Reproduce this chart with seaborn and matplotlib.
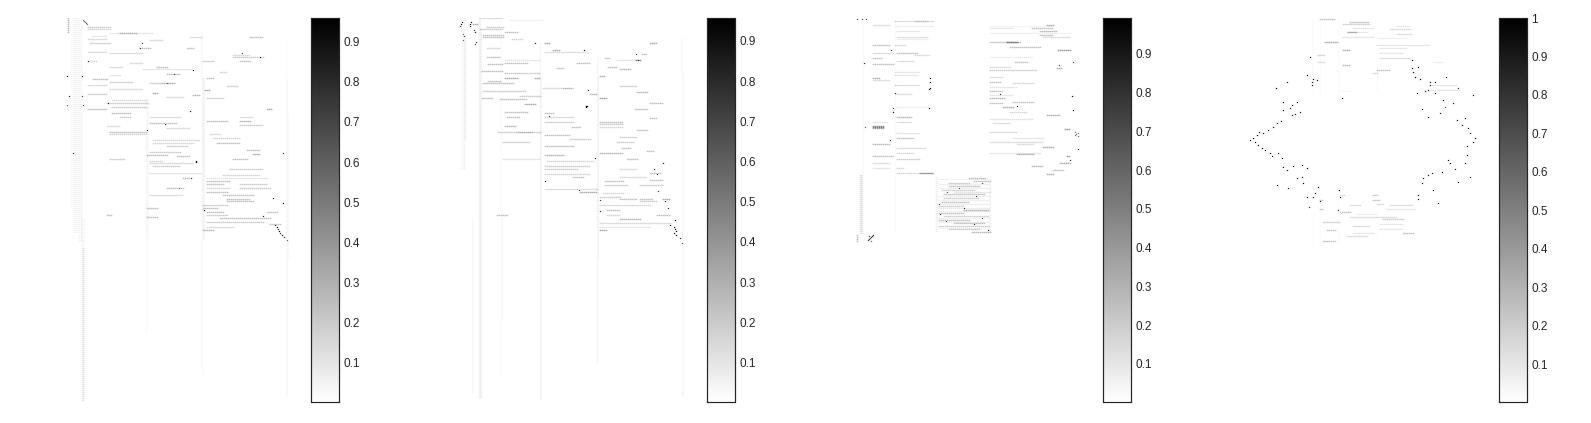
#!/usr/bin/env python3
"""Four sparse grey matrices, each with its own colorbar."""

import numpy as np
import matplotlib
matplotlib.use('Agg')
import matplotlib.pyplot as plt
import seaborn as sns

sns.set_theme(style="white")
plt.rcParams['font.family'] = ['Liberation Sans', 'DejaVu Sans']

N_ROWS = 384
N_COLS = 230

# streaks: (row, first col, last col, value)
streaks_1 = [
    (9, 26, 48, .25), (11, 26, 48, .2), (15, 48, 91, .15), (15, 58, 75, .4), (18, 30, 45, .15),
    (19, 128, 141, .2), (19, 188, 201, .3), (21, 26, 45, .2), (25, 28, 48, .25), (22, 88, 101, .2),
    (30, 78, 88, .3), (30, 125, 131, .3), (34, 26, 45, .2), (35, 48, 81, .2), (37, 171, 188, .2),
    (39, 171, 201, .25), (43, 26, 35, .2), (43, 141, 151, .25), (43, 178, 188, .3), (45, 68, 81, .2),
    (49, 48, 61, .2), (49, 95, 105, .3), (51, 81, 131, .15), (54, 158, 165, .2), (56, 105, 118, .3),
    (57, 48, 58, .15), (61, 31, 45, .3), (64, 48, 71, .25), (60, 145, 151, .3), (65, 88, 111, .25),
    (65, 100, 112, .4), (67, 26, 45, .2), (68, 165, 175, .25), (71, 48, 81, .2), (72, 143, 148, .4),
    (75, 91, 95, .4), (76, 26, 45, .25), (77, 131, 138, .35), (79, 105, 122, .2), (80, 145, 161, .25),
    (82, 50, 85, .2), (85, 45, 85, .25), (89, 50, 85, .25), (91, 26, 45, .3), (91, 205, 210, .4),
    (95, 50, 68, .3), (99, 58, 68, .25), (99, 88, 118, .2), (99, 178, 191, .2), (103, 145, 165, .3),
    (103, 178, 188, .35), (105, 88, 115, .3), (107, 178, 201, .25), (108, 45, 58, .2), (110, 105, 128, .2),
    (114, 48, 85, .3), (116, 48, 85, .2), (116, 148, 158, .2), (120, 151, 178, .2), (122, 91, 138, .2),
    (125, 91, 131, .2), (125, 155, 178, .3), (128, 105, 125, .25), (132, 185, 198, .3), (134, 88, 118, .25),
    (136, 191, 198, .4), (137, 85, 105, .3), (138, 115, 128, .3), (141, 171, 185, .3), (141, 48, 62, .25),
    (143, 88, 101, .2), (145, 88, 131, .2), (148, 91, 118, .25), (151, 168, 201, .25), (155, 88, 138, .15),
    (157, 161, 198, .2), (160, 121, 128, .3), (160, 145, 205, .15), (163, 145, 168, .3), (166, 145, 161, .3),
    (166, 178, 205, .25), (170, 105, 121, .3), (170, 145, 168, .2), (170, 178, 208, .25), (174, 145, 165, .3),
    (177, 88, 121, .2), (177, 161, 191, .3), (181, 165, 188, .3), (183, 165, 191, .3), (187, 141, 165, .25),
    (190, 85, 95, .3), (190, 141, 155, .3), (194, 145, 161, .3), (194, 205, 215, .3), (197, 145, 165, .25),
    (197, 45, 50, .3), (199, 85, 95, .3), (200, 158, 208, .3), (204, 145, 201, .25), (206, 208, 218, .3),
    (209, 145, 171, .2), (212, 141, 151, .35),
]
# bands: (col, first row, last row, value)
bands_1 = [
    (6, 0, 14, .25), (9, 0, 190, .025), (11, 0, 215, .04), (13, 0, 215, .05), (15, 0, 215, .05), (17, 0, 222, .05),
    (19, 0, 222, .05), (20, 200, 382, .05), (21, 230, 382, .08), (22, 200, 382, .03), (45, 100, 302, .015),
    (84, 80, 315, .03), (85, 80, 220, .03), (86, 80, 220, .02), (140, 15, 355, .04), (141, 60, 220, .05),
    (142, 60, 220, .03), (224, 20, 378, .03), (225, 60, 378, .03), (226, 100, 240, .02),
]
# dots: (row, col, value)
dots_1 = [
    (2, 21, .5), (3, 22, .6), (4, 23, .5), (5, 24, .6), (6, 25, .5), (58, 5, .8), (58, 20, .8), (78, 7, .8),
    (78, 20, .7), (87, 5, .6), (87, 21, .7), (135, 11, .8), (85, 46, .9), (143, 134, .95), (144, 134, .95),
    (93, 128, .8), (112, 85, .9), (192, 142, .9), (185, 221, .9), (160, 129, .7), (30, 78, .8), (25, 80, .7),
    (52, 131, .9), (43, 26, .8), (39, 198, .8), (35, 180, .7), (135, 221, .7), (180, 211, .8), (198, 201, .8),
    (207, 213, .9), (209, 215, .9), (211, 216, .8), (213, 217, .9), (215, 218, .8), (217, 220, .9),
    (219, 222, .8), (222, 225, .6), (56, 112, .7), (65, 105, .6), (106, 103, .7), (170, 117, .6),
]

streaks_2 = [
    (0, 22, 45, .2), (2, 52, 84, .1), (6, 15, 20, .4), (9, 29, 45, .25), (11, 22, 45, .25), (14, 47, 59, .3),
    (17, 25, 45, .3), (19, 25, 45, .3), (21, 54, 65, .2), (25, 87, 92, .4), (25, 192, 199, .4), (30, 29, 42, .2),
    (32, 95, 102, .4), (34, 87, 129, .2), (36, 184, 189, .3), (39, 29, 42, .3), (40, 147, 152, .3), (42, 47, 82, .15),
    (42, 159, 182, .15), (42, 178, 182, .5), (45, 47, 70, .3), (45, 119, 132, .3), (46, 30, 45, .3), (49, 150, 159, .3),
    (51, 162, 172, .35), (50, 99, 105, .3), (53, 24, 45, .3), (55, 47, 82, .25), (58, 142, 147, .4), (60, 47, 60, .4),
    (60, 77, 82, .4), (63, 30, 42, .3), (65, 25, 55, .3), (68, 162, 179, .25), (70, 85, 115, .2), (70, 105, 113, .35),
    (73, 25, 67, .25), (74, 179, 189, .35), (76, 132, 139, .35), (78, 62, 82, .25), (80, 142, 149, .45), (80, 24, 34, .3),
    (81, 42, 69, .3), (85, 192, 205, .3), (86, 67, 77, .4), (91, 177, 189, .3), (94, 47, 69, .3), (95, 87, 95, .3),
    (99, 49, 62, .3), (99, 87, 115, .2), (100, 192, 199, .3), (104, 87, 115, .25), (104, 142, 165, .3), (106, 142, 165, .25),
    (108, 47, 57, .35), (109, 142, 164, .2), (109, 114, 122, .3), (112, 179, 189, .3), (114, 40, 82, .25), (114, 60, 75, .4),
    (117, 87, 112, .3), (119, 162, 179, .25), (121, 112, 132, .25), (124, 45, 72, .25), (124, 159, 175, .25), (128, 87, 115, .3),
    (130, 164, 172, .3), (133, 189, 195, .3), (135, 142, 165, .35), (137, 87, 105, .35), (141, 45, 82, .15), (141, 169, 179, .3),
    (143, 89, 135, .2), (148, 87, 132, .25), (151, 87, 119, .25), (151, 162, 179, .2), (155, 192, 202, .3), (156, 87, 132, .2),
    (159, 115, 125, .3), (159, 162, 189, .2), (162, 192, 205, .3), (163, 147, 165, .3), (167, 147, 170, .25), (167, 182, 205, .25),
    (171, 87, 139, .2), (174, 122, 139, .4), (175, 145, 165, .2), (179, 142, 162, .25), (181, 162, 179, .3), (181, 182, 195, .3),
    (181, 205, 212, .4), (183, 182, 199, .25), (187, 142, 192, .2), (192, 149, 162, .3), (197, 149, 162, .2), (197, 199, 212, .3),
    (197, 39, 49, .3), (201, 162, 182, .35), (205, 142, 212, .2), (209, 142, 192, .15), (212, 142, 149, .4),
]
bands_2 = [
    (4, 0, 150, .05), (6, 0, 150, .06), (7, 20, 120, .05), (14, 200, 375, .04), (21, 0, 380, .05), (22, 0, 380, .05), (23, 15, 380, .04),
    (43, 15, 355, .03), (44, 200, 300, .03), (82, 25, 382, .05), (83, 60, 382, .03), (139, 40, 345, .05),
    (140, 60, 240, .04), (224, 20, 378, .04), (225, 60, 378, .03),
]
dots_2 = [
    (4, 4, .9), (6, 3, .9), (8, 2, .8), (4, 13, .9), (6, 12, .9), (8, 12, .8), (12, 16, .7), (14, 17, .8), (16, 5, .6),
    (18, 6, .7), (22, 5, .6), (24, 18, .7), (26, 17, .7), (88, 128, .95), (89, 128, .95), (88, 129, .95), (25, 77, .8),
    (32, 126, .9), (72, 130, .8), (98, 91, .7), (140, 137, .8), (145, 205, .8), (172, 121, .7), (163, 87, .8),
    (182, 142, .7), (193, 142, .8), (183, 207, .8), (190, 210, .8), (202, 217, .9), (151, 196, .8), (173, 200, .7),
    (207, 212, .9), (209, 216, .9), (211, 217, .95), (213, 218, .9), (215, 216, .9), (217, 218, .9), (220, 222, .8),
    (225, 224, .6), (156, 199, .8), (36, 178, .7), (42, 180, .8),
]

streaks_3 = [
    (3, 41, 79, .2), (3, 61, 74, .35), (7, 19, 36, .2), (7, 193, 199, .4), (8, 41, 79, .1), (8, 136, 199, .08),
    (10, 136, 159, .15), (10, 178, 199, .3), (13, 43, 66, .15), (13, 186, 203, .35), (15, 136, 216, .1), (17, 186, 199, .3),
    (19, 43, 73, .2), (19, 189, 216, .2), (21, 43, 73, .1), (24, 136, 166, .3), (24, 153, 163, .5), (27, 19, 36, .3),
    (27, 41, 51, .2), (29, 156, 186, .3), (32, 204, 216, .5), (35, 19, 39, .2), (35, 43, 63, .3), (37, 61, 76, .2),
    (39, 136, 179, .1), (40, 19, 28, .3), (43, 43, 59, .2), (44, 161, 173, .3), (46, 19, 39, .3), (49, 136, 156, .2),
    (50, 203, 208, .4), (52, 136, 183, .25), (54, 41, 66, .15), (57, 41, 63, .15), (59, 136, 149, .2), (60, 19, 26, .4),
    (62, 19, 36, .2), (64, 136, 146, .3), (65, 159, 179, .2), (67, 41, 66, .2), (69, 136, 163, .15), (73, 136, 149, .3),
    (76, 41, 58, .2), (77, 136, 159, .15), (80, 136, 151, .35), (84, 159, 179, .3), (85, 136, 149, .3), (89, 43, 73, .1),
    (89, 149, 159, .4), (94, 156, 173, .2), (97, 193, 206, .4), (99, 43, 58, .35), (101, 136, 179, .15), (104, 19, 33, .15),
    (104, 43, 58, .2), (105, 139, 156, .2), (108, 19, 29, .5), (109, 19, 29, .45), (110, 19, 29, .4), (111, 211, 216, .5),
    (114, 136, 163, .2), (115, 43, 66, .15), (120, 43, 59, .3), (120, 159, 189, .15), (124, 136, 189, .2), (126, 19, 36, .35),
    (126, 163, 179, .2), (129, 189, 199, .4), (130, 43, 71, .2), (135, 43, 59, .2), (135, 136, 186, .15), (136, 163, 179, .35),
    (138, 19, 39, .3), (138, 213, 216, .5), (141, 43, 66, .25), (145, 19, 36, .2), (145, 206, 216, .4), (148, 178, 189, .35),
    (150, 43, 49, .2), (150, 19, 36, .15), (152, 199, 209, .3), (155, 43, 79, .2), (155, 66, 78, .4), (156, 193, 199, .4),
    # block in the middle
    (160, 115, 132, .3), (161, 85, 136, .08), (163, 120, 136, .3), (165, 95, 115, .25), (166, 85, 136, .1), (168, 95, 125, .3),
    (170, 85, 136, .1), (172, 88, 120, .25), (174, 100, 136, .15), (176, 90, 130, .3), (178, 85, 136, .1), (180, 90, 125, .25),
    (182, 85, 136, .1), (184, 88, 115, .3), (186, 85, 136, .1), (188, 85, 110, .25), (190, 85, 136, .12), (192, 110, 135, .35),
    (193, 85, 136, .1), (195, 85, 110, .3), (198, 90, 135, .25), (200, 85, 136, .1), (202, 85, 115, .3), (204, 85, 136, .1),
    (205, 100, 130, .3), (208, 85, 135, .25), (210, 85, 136, .08), (211, 95, 125, .25), (214, 118, 136, .35),
]
bands_3 = [
    (6, 157, 215, .08), (7, 157, 215, .09), (8, 157, 215, .06), (9, 0, 155, .04), (19, 158, 215, .015), (41, 0, 215, .03),
    (82, 159, 214, .05), (83, 159, 214, .04), (136, 159, 214, .06), (221, 0, 215, .02), (3, 217, 224, .25),
]
dots_3 = [
    (1, 3, .7), (1, 8, .7), (1, 12, .7), (60, 76, .95), (64, 76, .9), (70, 76, .95), (71, 75, .9), (90, 75, .9), (94, 39, .9),
    (90, 39, .7), (75, 41, .8), (45, 10, .8), (109, 11, .6), (32, 37, .8), (122, 36, .8), (114, 221, .5), (115, 224, .5),
    (116, 222, .6), (117, 221, .5), (118, 224, .6), (131, 224, .8), (44, 219, .7), (78, 218, .9), (92, 219, .9),
    (217, 19, .8), (218, 18, .8), (219, 17, .8), (220, 16, .7), (221, 15, .8), (222, 14, .8), (218, 15, .7), (223, 17, .6),
    (170, 105, .7), (178, 122, .8), (186, 85, .8), (190, 110, .8), (200, 128, .7), (206, 120, .8), (212, 134, .9), (165, 128, .7),
    (196, 86, .8), (203, 92, .7), (174, 93, .7), (88, 163, .8), (76, 146, .8), (142, 216, .8), (47, 205, .7),
]

streaks_4 = [
    (1, 70, 85, .3), (4, 100, 118, .3), (6, 93, 120, .25), (8, 147, 160, .15), (10, 103, 123, .15), (11, 140, 160, .2),
    (14, 97, 117, .15), (14, 98, 107, .35), (16, 147, 162, .2), (19, 93, 123, .15), (20, 127, 157, .1), (24, 75, 87, .4),
    (27, 127, 180, .15), (30, 130, 157, .15), (32, 93, 100, .4), (35, 130, 153, .15), (37, 68, 75, .25), (40, 130, 160, .2),
    (44, 68, 75, .2), (44, 183, 193, .1), (47, 93, 100, .35), (52, 127, 140, .3), (55, 123, 128, .2), (67, 180, 207, .15),
    (72, 177, 210, .15), (73, 90, 100, .05), (177, 90, 95, .2), (177, 123, 128, .3), (182, 123, 130, .3), (182, 70, 73, .3),
    (186, 127, 133, .2), (187, 100, 110, .2), (187, 140, 163, .2), (191, 70, 73, .3), (191, 137, 165, .15), (194, 90, 100, .3),
    (196, 107, 127, .1), (199, 100, 140, .2), (199, 140, 147, .2), (201, 133, 153, .25), (204, 73, 90, .25), (206, 130, 153, .15),
    (208, 103, 120, .2), (211, 130, 153, .15), (212, 77, 85, .3), (215, 103, 123, .15), (215, 153, 163, .3), (218, 97, 117, .2),
    (223, 73, 85, .3),
]
bands_4 = [
    (62, 1, 75, .03), (63, 185, 225, .03), (70, 1, 75, .02), (70, 185, 225, .02), (88, 1, 85, .03), (88, 185, 225, .03),
    (127, 30, 75, .03), (127, 190, 225, .02),
]
dots_4 = [
    (122, 0, .95), (120, 3, .95), (124, 5, .95), (117, 7, .95), (114, 9, .9), (115, 13, .9), (112, 18, .9), (109, 23, .9),
    (105, 27, .9), (103, 31, .9), (127, 8, .95), (130, 12, .95), (132, 15, .95), (135, 20, .95), (138, 22, .9), (135, 28, .9),
    (140, 32, .95), (149, 33, .9), (152, 37, .95), (148, 43, .9), (147, 52, .95), (150, 57, .95), (160, 47, .9), (159, 52, .9),
    (167, 27, .9), (170, 38, .9), (165, 53, .95), (169, 68, .95), (175, 65, .9), (179, 57, .9), (179, 63, .9), (183, 70, .9),
    (189, 59, .8), (172, 89, .95), (179, 90, .9), (192, 88, .8),
    (70, 26, .95), (64, 37, .9), (84, 33, .9), (92, 33, .9), (84, 47, .95), (87, 42, .95), (90, 40, .9), (94, 50, .9), (97, 42, .9),
    (96, 45, .9), (57, 57, .95), (61, 63, .95), (64, 62, .9), (67, 62, .9), (62, 67, .9), (39, 60, .9), (80, 92, .95),
    (42, 162, .95), (49, 168, .95), (50, 162, .95), (54, 163, .9), (59, 165, .95), (61, 170, .95), (64, 180, .9), (64, 185, .9),
    (67, 180, .9), (72, 178, .9), (75, 167, .9), (73, 175, .9), (75, 185, .9), (82, 193, .95), (85, 203, .9), (89, 195, .7),
    (59, 196, .8), (70, 208, .8), (77, 223, .9), (91, 172, .9), (99, 178, .95), (95, 190, .9), (102, 207, .95), (100, 215, .9),
    (107, 212, .95), (110, 218, .95), (115, 220, .95), (120, 225, .95), (124, 223, .95), (128, 217, .9), (137, 217, .9),
    (145, 215, .9), (145, 200, .95), (142, 198, .95), (151, 205, .9), (159, 220, .8), (164, 208, .95), (154, 192, .95),
    (155, 182, .9), (157, 178, .9), (160, 173, .9), (165, 172, .9), (172, 183, .95), (177, 168, .9), (181, 168, .9), (185, 188, .8),
]

color_limits = [(0.002, 0.959), (0.002, 0.957), (0.002, 0.992), (0.002, 1.0)]
cbar_ticks = [
    [.1, .2, .3, .4, .5, .6, .7, .8, .9],
    [.1, .2, .3, .4, .5, .6, .7, .8, .9],
    [.1, .2, .3, .4, .5, .6, .7, .8, .9],
    [.1, .2, .3, .4, .5, .6, .7, .8, .9, 1],
]
cbar_labels = [
    ['0.1', '0.2', '0.3', '0.4', '0.5', '0.6', '0.7', '0.8', '0.9'],
    ['0.1', '0.2', '0.3', '0.4', '0.5', '0.6', '0.7', '0.8', '0.9'],
    ['0.1', '0.2', '0.3', '0.4', '0.5', '0.6', '0.7', '0.8', '0.9'],
    ['0.1', '0.2', '0.3', '0.4', '0.5', '0.6', '0.7', '0.8', '0.9', '1'],
]
panel_data = [
    (streaks_1, bands_1, dots_1),
    (streaks_2, bands_2, dots_2),
    (streaks_3, bands_3, dots_3),
    (streaks_4, bands_4, dots_4),
]


def soften(m):
    """Light smear along both axes, the source image is a soft jpeg."""
    m = np.apply_along_axis(np.convolve, 1, m, [.2, .6, .2], mode='same')
    return np.apply_along_axis(np.convolve, 0, m, [.15, .7, .15], mode='same')


def build_matrix(streaks, bands, dots):
    """Fill a blank matrix from the streak, band and dot lists."""
    m = np.zeros((N_ROWS, N_COLS))
    for col, r0, r1, val in bands:
        m[r0:r1 + 1:2, col] = np.maximum(m[r0:r1 + 1:2, col], val * 2.5)
    for row, c0, c1, val in streaks:
        m[row, c0:c1 + 1:2] = np.maximum(m[row, c0:c1 + 1:2], val * 1.8)
    m = soften(m)
    # dark points keep their full value, with a soft edge around them
    d = np.zeros((N_ROWS, N_COLS))
    for row, col, val in dots:
        d[row, col] = val
    m = np.maximum(m, soften(d))
    for row, col, val in dots:
        m[row, col] = val
    return m


W, H = 1591, 423
fig = plt.figure(figsize=(W / 100, H / 100), dpi=100)

for i in range(4):
    x0 = 62 + 396 * i
    ax = fig.add_axes([x0 / W, 1 - 402 / H, N_COLS / W, N_ROWS / H])
    cax = fig.add_axes([(311 + 396 * i) / W, 1 - 402 / H, 28 / W, 384 / H])
    vmin, vmax = color_limits[i]
    sns.heatmap(build_matrix(*panel_data[i]), ax=ax, cbar_ax=cax, cmap='gray_r', vmin=vmin, vmax=vmax,
                xticklabels=False, yticklabels=False, rasterized=True)
    ax.collections[0].set_antialiased(False)
    cax.set_yticks(cbar_ticks[i])
    cax.set_yticklabels(cbar_labels[i])
    cax.tick_params(axis='y', direction='in', right=True, length=3, width=0.6, pad=3,
                    labelsize=8.5, labelcolor='#262626', color='#262626')
    for spine in cax.spines.values():
        spine.set_visible(True)
        spine.set_linewidth(0.8)
        spine.set_color('#262626')

fig.savefig('out.png', dpi=100)
